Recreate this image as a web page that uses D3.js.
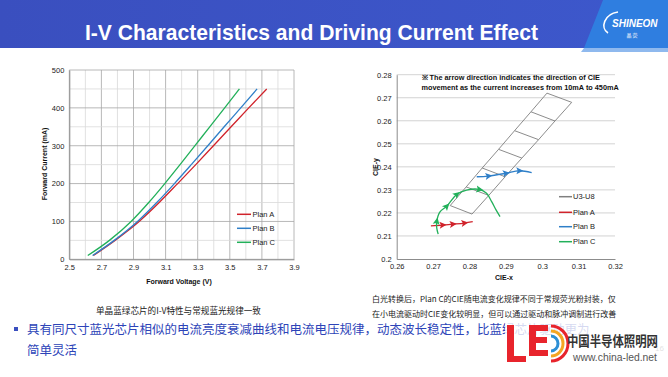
<!doctype html>
<html>
<head>
<meta charset="utf-8">
<script src="https://cdn.jsdelivr.net/npm/d3@7"></script>
<style>
  body { margin: 0; background: #fff; }
  svg text { font-family: "Liberation Sans", Arial, sans-serif; }
  .cn { font-family: "Noto Sans CJK SC", sans-serif; }
</style>
</head>
<body>
<div id="slide"></div>
<script>
// ---- I-V chart data (current in mA, forward voltage in V) ----
var ivCurrent = [10, 50, 100, 150, 200, 250, 300, 350, 400, 450];
var ivPlanA = [2.65, 2.785, 2.935, 3.06, 3.175, 3.288, 3.398, 3.508, 3.618, 3.73];
var ivPlanB = [2.645, 2.78, 2.925, 3.045, 3.155, 3.26, 3.363, 3.465, 3.568, 3.67];
var ivPlanC = [2.615, 2.75, 2.885, 2.995, 3.095, 3.19, 3.283, 3.375, 3.468, 3.56];
var ivXTicks = [2.5, 2.7, 2.9, 3.1, 3.3, 3.5, 3.7, 3.9];
var ivYTicks = [0, 100, 200, 300, 400, 500];
var planNames = ["Plan A", "Plan B", "Plan C"];
var planColors = ["#d0232b", "#2f7fc8", "#22b05a"];

// ---- CIE chart data ----
// U3-U8 bin grid: left and right edge corners, top to bottom
var binLeftX  = [0.3013, 0.2969, 0.2924, 0.2880, 0.2835, 0.2791, 0.2747];
var binLeftY  = [0.2720, 0.2639, 0.2557, 0.2476, 0.2395, 0.2313, 0.2232];
var binRightX = [0.3081, 0.3035, 0.2990, 0.2944, 0.2898, 0.2853, 0.2807];
var binRightY = [0.2680, 0.2599, 0.2518, 0.2438, 0.2357, 0.2276, 0.2195];

var cieAx = [0.2694, 0.2726, 0.2754, 0.2786, 0.2809];
var cieAy = [0.2144, 0.2147, 0.2151, 0.2156, 0.2162];
var cieAArrows = [1, 2, 3];
var cieBx = [0.2820, 0.2852, 0.2900, 0.2937, 0.2971];
var cieBy = [0.2357, 0.2360, 0.2372, 0.2383, 0.2375];
var cieBArrows = [1, 2, 3];
var cieCx = [0.2714, 0.2710, 0.2710, 0.2719, 0.2737, 0.2765, 0.2792, 0.2827, 0.2847, 0.2861, 0.2873, 0.2884];
var cieCy = [0.2108, 0.2135, 0.2163, 0.2205, 0.2228, 0.2280, 0.2299, 0.2302, 0.2285, 0.2249, 0.2213, 0.2184];
var cieCArrows = [2, 4, 5, 7];
var cieXTicks = [0.26, 0.27, 0.28, 0.29, 0.3, 0.31, 0.32];
var cieYTicks = [0.2, 0.21, 0.22, 0.23, 0.24, 0.25, 0.26, 0.27, 0.28];

var W = 668, H = 377;
var svg = d3.select("#slide").append("svg")
  .attr("width", W).attr("height", H);

// ---- header band ----
var defs = svg.append("defs");
var grad = defs.append("linearGradient").attr("id", "hdr");
grad.append("stop").attr("offset", "0%").attr("stop-color", "#3a4fbf");
grad.append("stop").attr("offset", "100%").attr("stop-color", "#3d58cc");
svg.append("rect").attr("x", 0).attr("y", 0).attr("width", W).attr("height", 48)
  .attr("fill", "url(#hdr)");
svg.append("path").attr("d", "M603,0 L668,0 L668,48 L584,48 Z").attr("fill", "#2f7ee0");
svg.append("path").attr("d", "M584,48 L668,48 L668,52 L581,52 Z").attr("fill", "#8fb9ee");
svg.append("text").attr("x", 85).attr("y", 40)
  .attr("textLength", 453).attr("lengthAdjust", "spacingAndGlyphs")
  .style("font-family", "'Liberation Sans Narrow', 'Liberation Sans', sans-serif")
  .style("font-weight", "bold").style("font-size", "22px").style("fill", "#fff")
  .text("I-V Characteristics and Driving Current Effect");
// logo
svg.append("path").attr("d", "M618,12 C604,14 600,28 608,33")
  .attr("fill", "none").attr("stroke", "#fff").attr("stroke-width", 1.6);
svg.append("text").attr("x", 612).attr("y", 27)
  .style("font-weight", "bold").style("font-style", "italic").style("font-size", "10px")
  .style("fill", "#fff").text("SHINEON");
svg.append("text").attr("class", "cn").attr("x", 632).attr("y", 37).attr("text-anchor", "middle")
  .style("font-size", "5px").style("fill", "#fff").text("晶   荧");

// ---- left chart: I-V ----
var L = {left: 69.3, right: 294, top: 70, bottom: 259.3};
var xV = d3.scaleLinear().domain([2.5, 3.9]).range([L.left, L.right]);
var yI = d3.scaleLinear().domain([0, 500]).range([L.bottom, L.top]);
var gL = svg.append("g");

gL.selectAll(".vgrid").data(d3.range(0, 15)).enter().append("line")
  .attr("x1", function(i) { return xV(2.5 + i * 0.1); })
  .attr("x2", function(i) { return xV(2.5 + i * 0.1); })
  .attr("y1", L.top).attr("y2", L.bottom)
  .attr("stroke", function(i) { return i % 2 === 0 ? "#a6a6a6" : "#d9d9d9"; })
  .attr("stroke-width", 0.8);
gL.selectAll(".hgrid").data(d3.range(0, 11)).enter().append("line")
  .attr("x1", L.left).attr("x2", L.right)
  .attr("y1", function(i) { return yI(i * 50); })
  .attr("y2", function(i) { return yI(i * 50); })
  .attr("stroke", function(i) { return i % 2 === 0 ? "#a6a6a6" : "#d9d9d9"; })
  .attr("stroke-width", 0.8);

var axL = gL.append("g").attr("transform", "translate(0," + L.bottom + ")")
  .call(d3.axisBottom(xV).tickValues(ivXTicks).tickSize(0).tickPadding(5).tickFormat(d3.format(".1f")));
var ayL = gL.append("g").attr("transform", "translate(" + L.left + ",0)")
  .call(d3.axisLeft(yI).tickValues(ivYTicks).tickSize(0).tickPadding(5));
[axL, ayL].forEach(function(a) {
  a.select(".domain").attr("stroke", "#8c8c8c");
  a.selectAll("text").style("font-size", "7.5px").style("fill", "#222")
    .style("font-family", "'Liberation Sans', Arial, sans-serif");
});

var ivSeries = [ivPlanA, ivPlanB, ivPlanC];
var ivLine = d3.line().curve(d3.curveMonotoneX)
  .x(function(d) { return xV(d[0]); }).y(function(d) { return yI(d[1]); });
ivSeries.forEach(function(v, k) {
  gL.append("path")
    .attr("d", ivLine(v.map(function(vv, i) { return [vv, ivCurrent[i]]; })))
    .attr("fill", "none").attr("stroke", planColors[k]).attr("stroke-width", 1.3);
});

planNames.forEach(function(n, k) {
  var y = 214.3 + k * 14;
  gL.append("line").attr("x1", 237).attr("x2", 251).attr("y1", y).attr("y2", y)
    .attr("stroke", planColors[k]).attr("stroke-width", 1.5);
  gL.append("text").attr("x", 252.5).attr("y", y + 2.7)
    .style("font-size", "7.5px").style("fill", "#222").text(n);
});

gL.append("text").attr("x", 179).attr("y", 283.5).attr("text-anchor", "middle")
  .style("font-size", "7px").style("font-weight", "bold").style("fill", "#111")
  .text("Forward Voltage (V)");
gL.append("text").attr("transform", "translate(46.5,164) rotate(-90)").attr("text-anchor", "middle")
  .style("font-size", "7px").style("font-weight", "bold").style("fill", "#111")
  .text("Forward Current (mA)");

// ---- right chart: CIE ----
var R = {left: 396.7, right: 615, top: 74.7, bottom: 259};
var xC = d3.scaleLinear().domain([0.26, 0.32]).range([R.left, R.right]);
var yC = d3.scaleLinear().domain([0.2, 0.28]).range([R.bottom, R.top]);
var gR = svg.append("g");

gR.selectAll(".hgrid").data(cieYTicks.slice(1)).enter().append("line")
  .attr("x1", R.left).attr("x2", R.right)
  .attr("y1", function(d) { return yC(d); }).attr("y2", function(d) { return yC(d); })
  .attr("stroke", "#c8c8c8").attr("stroke-width", 0.8);

var fmt2 = function(d) { return d3.format("")(+d.toFixed(2)); };
var axR = gR.append("g").attr("transform", "translate(0," + R.bottom + ")")
  .call(d3.axisBottom(xC).tickValues(cieXTicks).tickSize(0).tickPadding(5).tickFormat(fmt2));
var ayR = gR.append("g").attr("transform", "translate(" + R.left + ",0)")
  .call(d3.axisLeft(yC).tickValues(cieYTicks).tickSize(0).tickPadding(5).tickFormat(fmt2));
[axR, ayR].forEach(function(a) {
  a.select(".domain").attr("stroke", "#8c8c8c");
  a.selectAll("text").style("font-size", "7.5px").style("fill", "#222")
    .style("font-family", "'Liberation Sans', Arial, sans-serif");
});

// bin grid
var binOutline = [];
binLeftX.forEach(function(x, i) { binOutline.push([x, binLeftY[i]]); });
for (var i = binRightX.length - 1; i >= 0; i--) binOutline.push([binRightX[i], binRightY[i]]);
gR.append("path")
  .attr("d", d3.line().x(function(d) { return xC(d[0]); }).y(function(d) { return yC(d[1]); })(binOutline) + "Z")
  .attr("fill", "none").attr("stroke", "#7f7f7f").attr("stroke-width", 0.9);
gR.selectAll(".bindiv").data(d3.range(1, binLeftX.length - 1)).enter().append("line")
  .attr("x1", function(i) { return xC(binLeftX[i]); }).attr("y1", function(i) { return yC(binLeftY[i]); })
  .attr("x2", function(i) { return xC(binRightX[i]); }).attr("y2", function(i) { return yC(binRightY[i]); })
  .attr("stroke", "#7f7f7f").attr("stroke-width", 0.9);

var cieLine = d3.line().curve(d3.curveCatmullRom)
  .x(function(d) { return xC(d[0]); }).y(function(d) { return yC(d[1]); });
var cieSets = [[cieAx, cieAy, cieAArrows], [cieBx, cieBy, cieBArrows], [cieCx, cieCy, cieCArrows]];
cieSets.forEach(function(s, k) {
  var pts = s[0].map(function(x, i) { return [x, s[1][i]]; });
  gR.append("path").attr("d", cieLine(pts))
    .attr("fill", "none").attr("stroke", planColors[k]).attr("stroke-width", 1.3);
  s[2].forEach(function(i) {
    var a = pts[i - 1], b = pts[Math.min(i + 1, pts.length - 1)];
    var ang = Math.atan2(yC(b[1]) - yC(a[1]), xC(b[0]) - xC(a[0])) * 180 / Math.PI;
    gR.append("path").attr("d", "M4,0 L-3,-3.5 L-1.5,0 L-3,3.5 Z")
      .attr("transform", "translate(" + xC(pts[i][0]) + "," + yC(pts[i][1]) + ") rotate(" + ang + ")")
      .attr("fill", planColors[k]);
  });
});

var cieLegend = ["U3-U8"].concat(planNames);
var cieLegendCol = ["#7f7f7f"].concat(planColors);
cieLegend.forEach(function(n, k) {
  var y = [196.7, 212.3, 226.7, 241.7][k];
  gR.append("line").attr("x1", 559).attr("x2", 572).attr("y1", y).attr("y2", y)
    .attr("stroke", cieLegendCol[k]).attr("stroke-width", 1.5);
  gR.append("text").attr("x", 573).attr("y", y + 2.7)
    .style("font-size", "7.5px").style("fill", "#222").text(n);
});

gR.append("text").attr("x", 421.5).attr("y", 80)
  .style("font-size", "7.3px").style("font-weight", "bold").style("fill", "#111")
  .text("※ The arrow direction indicates the direction of CIE");
gR.append("text").attr("x", 421.5).attr("y", 89.5)
  .style("font-size", "7.3px").style("font-weight", "bold").style("fill", "#111")
  .text("movement as the current increases from 10mA to 450mA");
gR.append("text").attr("x", 504).attr("y", 279.5).attr("text-anchor", "middle")
  .style("font-size", "7px").style("font-weight", "bold").style("fill", "#111").text("CIE-x");
gR.append("text").attr("transform", "translate(377.5,167) rotate(-90)").attr("text-anchor", "middle")
  .style("font-size", "7px").style("font-weight", "bold").style("fill", "#111").text("CIE-y");

// ---- captions ----
svg.append("text").attr("class", "cn").attr("x", 178.5).attr("y", 314).attr("text-anchor", "middle")
  .style("font-size", "8.6px").style("fill", "#222").text("单晶蓝绿芯片的I-V特性与常规蓝光规律一致");
svg.append("text").attr("class", "cn").attr("x", 372).attr("y", 302)
  .style("font-size", "8px").style("fill", "#222").text("白光转换后，Plan C的CIE随电流变化规律不同于常规荧光粉封装，仅");
svg.append("text").attr("class", "cn").attr("x", 372).attr("y", 317)
  .style("font-size", "8px").style("fill", "#222").text("在小电流驱动时CIE变化较明显，但可以通过驱动和脉冲调制进行改善");

// ---- bullet ----
svg.append("rect").attr("x", 14).attr("y", 327).attr("width", 4).attr("height", 4).attr("fill", "#3a4fbf");
svg.append("text").attr("class", "cn").attr("x", 27).attr("y", 334)
  .style("font-size", "12.5px").style("fill", "#2d44b8")
  .text("具有同尺寸蓝光芯片相似的电流亮度衰减曲线和电流电压规律，动态波长稳定性，比蓝绿芯片驱动更为");
svg.append("text").attr("class", "cn").attr("x", 27).attr("y", 355)
  .style("font-size", "12.5px").style("fill", "#2d44b8").text("简单灵活");
svg.append("text").attr("x", 655).attr("y", 351)
  .style("font-size", "8px").style("fill", "#666").text("16");

// ---- LED logo (overlays the slide text, as in the source) ----
svg.append("rect").attr("x", 505).attr("y", 322).attr("width", 163).attr("height", 44).attr("fill", "#fff").attr("opacity", 0.8);
svg.append("path").attr("d", "M507,325 h7 v31 h12 v6 h-19 Z").attr("fill", "#e8242c");
svg.append("path").attr("d", "M529,325 h19 v6 h-12 v6 h11 v6 h-11 v7 h12 v6 h-19 Z").attr("fill", "#e8242c");
svg.append("path").attr("d", "M551,326 A17,17.5 0 0 1 551,361").attr("fill", "none").attr("stroke", "#e8242c").attr("stroke-width", 3);
svg.append("path").attr("d", "M551,331 A12,12.5 0 0 1 551,356").attr("fill", "none").attr("stroke", "#f5a623").attr("stroke-width", 3);
svg.append("path").attr("d", "M551,336 A7,7.5 0 0 1 551,351").attr("fill", "none").attr("stroke", "#2d8fd5").attr("stroke-width", 3);
svg.append("text").attr("class", "cn").attr("x", 567).attr("y", 346)
  .attr("textLength", 91).attr("lengthAdjust", "spacingAndGlyphs")
  .style("font-size", "13.5px").style("font-weight", "bold").style("fill", "#333").text("中国半导体照明网");
svg.append("text").attr("x", 573).attr("y", 361)
  .attr("textLength", 84).attr("lengthAdjust", "spacingAndGlyphs")
  .style("font-size", "11.5px").style("fill", "#555").text("www.china-led.net");
</script>
</body>
</html>
